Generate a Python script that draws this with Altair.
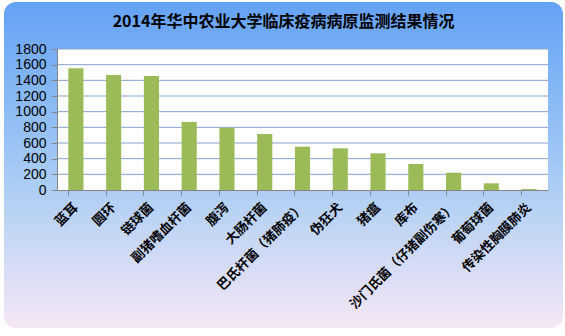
import altair as alt
import pandas as pd

categories = ["蓝耳", "圆环", "链球菌", "副猪嗜血杆菌", "腹泻", "大肠杆菌",
              "巴氏杆菌（猪肺疫）", "伪狂犬", "猪瘟", "库布",
              "沙门氏菌（仔猪副伤寒）", "葡萄球菌", "传染性胸膜肺炎"]
values = [1553, 1468, 1455, 868, 795, 715, 553, 532, 468, 332, 221, 85, 12]
y_ticks = [0, 200, 400, 600, 800, 1000, 1200, 1400, 1600, 1800]
title_text = "2014年华中农业大学临床疫病病原监测结果情况"

W, H = 491, 141
df = pd.DataFrame({"cat": categories, "val": values})
grid_df = pd.DataFrame({"v": y_ticks[1:]})

yscale = alt.Scale(domain=[0, 1800], nice=False)
xscale = alt.Scale(domain=categories, paddingInner=0.6, paddingOuter=0.3)

bg = alt.Chart(pd.DataFrame({"a": [0]})).mark_rect(
    cornerRadius=12,
    color=alt.Gradient(
        gradient="linear", x1=0, x2=0, y1=0, y2=1,
        stops=[alt.GradientStop(color="#64a2f5", offset=0),
               alt.GradientStop(color="#a9cdf5", offset=0.55),
               alt.GradientStop(color="#f6e7f6", offset=1)],
    ),
).encode(x=alt.value(-53), x2=alt.value(W + 15), y=alt.value(-47), y2=alt.value(H + 138))

white = alt.Chart(pd.DataFrame({"a": [0]})).mark_rect(color="white").encode(
    x=alt.value(0), x2=alt.value(W), y=alt.value(0), y2=alt.value(H))

title = alt.Chart(pd.DataFrame({"t": [title_text]})).mark_text(
    font="Noto Sans CJK SC", fontSize=16, fontWeight="bold", color="black",
    align="center", baseline="middle",
).encode(text="t:N", x=alt.value(W / 2 - 19), y=alt.value(-27))

yaxis = alt.Axis(values=y_ticks, grid=False, labelFont="Liberation Sans",
                 labelFontSize=14, labelColor="black", tickSize=6, format="d",
                 tickColor="#868686", domainColor="#868686", zindex=1,
                 labelPadding=5, labelOverlap=False, labelBound=False)

grid = alt.Chart(grid_df).mark_rule(color="#86a3cf", strokeWidth=1).encode(
    y=alt.Y("v:Q", scale=yscale, title=None, axis=yaxis))

bars = alt.Chart(df).mark_bar(color="#9bbb59").encode(
    x=alt.X("cat:N", sort=categories, scale=xscale, title=None,
            axis=alt.Axis(labelAngle=-45, labelAlign="right", labelBaseline="middle",
                          labelFont="Noto Sans CJK SC", labelFontWeight="bold",
                          labelFontSize=13, labelColor="black", labelPadding=10,
                          bandPosition=0, tickSize=5, tickColor="#868686",
                          domainColor="#868686", zindex=1, labelOverlap=False)),
    y=alt.Y("val:Q", scale=yscale, title=None, axis=yaxis),
)

chart = alt.layer(bg, white, title, grid, bars).properties(
    width=W, height=H,
    autosize=alt.AutoSizeParams(type="none"),
    padding={"left": 57, "top": 49, "right": 17, "bottom": 146},
).configure_view(stroke=None).configure(background="white").configure_axis(
    labelOverlap=False)

chart.save("out.html", embed_options={"renderer": "svg", "actions": False})
